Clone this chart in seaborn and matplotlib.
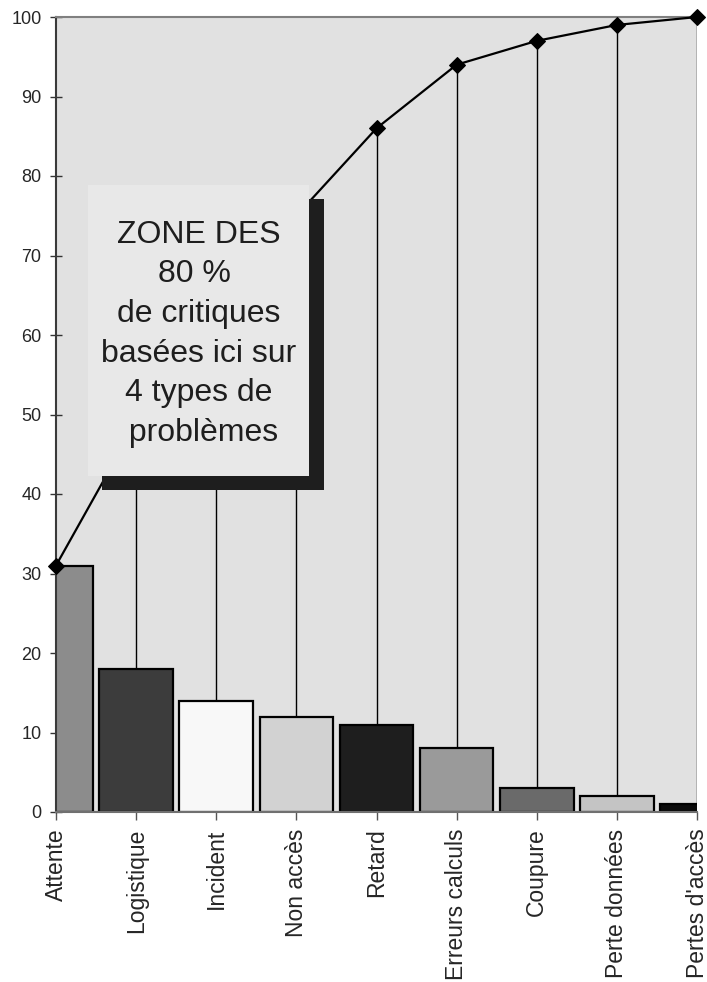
import numpy as np
import pandas as pd
import matplotlib
matplotlib.use("Agg")
import matplotlib.pyplot as plt
import seaborn as sns
from matplotlib.patches import Rectangle

categories = ["Attente", "Logistique", "Incident", "Non accès", "Retard",
              "Erreurs calculs", "Coupure", "Perte données", "Pertes d'accès"]
counts = [31, 18, 14, 12, 11, 8, 3, 2, 1]
bar_colors = ["#8c8c8c", "#3c3c3c", "#f8f8f8", "#d2d2d2", "#1e1e1e",
              "#9a9a9a", "#6a6a6a", "#c4c4c4", "#0a0a0a"]
y_ticks = list(range(0, 101, 10))
note_lines = ["ZONE DES", "80 % ", "de critiques", "basées ici sur",
              "4 types de", " problèmes"]

cumulative = np.cumsum(counts)

sns.set_style("white")
plt.rcParams["font.family"] = ["Liberation Sans", "DejaVu Sans"]

fig = plt.figure(figsize=(7.07, 9.82), dpi=100)
ax = fig.add_axes([56 / 707, 1 - 812 / 982, 641 / 707, 795 / 982])
ax.set_facecolor("#e1e1e1")

df = pd.DataFrame({"cat": categories, "val": counts, "cum": cumulative})

# Bars of each problem type
sns.barplot(data=df, x="cat", y="val", hue="cat", palette=bar_colors,
            width=0.92, edgecolor="black", linewidth=1.6, legend=False,
            ax=ax, zorder=2)

# Drop lines from the cumulative curve down to each bar
ax.vlines(df["cat"], df["val"], df["cum"], color="black", lw=1.0, zorder=3)

# Cumulative percentage curve
sns.lineplot(data=df, x="cat", y="cum", color="black", lw=1.6, marker="D",
             markersize=8.5, markeredgecolor="black", ax=ax, zorder=4,
             clip_on=False, sort=False)

ax.set_xlim(0, len(categories) - 1)
ax.set_ylim(0, 100)
ax.set_yticks(y_ticks)
ax.set_xlabel("")
ax.set_ylabel("")

ax.spines["right"].set_visible(False)
ax.spines["left"].set_color("#3a3a3a")
ax.spines["left"].set_linewidth(1.5)
ax.spines["top"].set_color("#808080")
ax.spines["top"].set_linewidth(1.5)
ax.spines["bottom"].set_color("#707070")
ax.spines["bottom"].set_linewidth(1.5)

ax.tick_params(axis="y", direction="inout", length=9, width=1,
               color="#333333", pad=6, labelsize=13, left=True)
ax.tick_params(axis="x", direction="out", length=6, width=1,
               color="#555555", pad=6, labelsize=16.5, labelrotation=90,
               bottom=True)

# Annotation box with drop shadow
ax.add_patch(Rectangle((0.0718, 0.405), 0.418 - 0.0718, 0.771 - 0.405,
                       transform=ax.transAxes, facecolor="#1e1e1e",
                       edgecolor="none", zorder=5))
ax.add_patch(Rectangle((0.050, 0.4226), 0.395 - 0.050, 0.7887 - 0.4226,
                       transform=ax.transAxes, facecolor="#e8e8e8",
                       edgecolor="none", zorder=6))
ax.text((0.050 + 0.395) / 2, (0.4226 + 0.7887) / 2 - 0.004, "\n".join(note_lines),
        transform=ax.transAxes, ha="center", va="center",
        multialignment="center", fontsize=23, linespacing=1.42,
        color="#1e1e1e", zorder=7)

fig.savefig("out.png", dpi=100)
